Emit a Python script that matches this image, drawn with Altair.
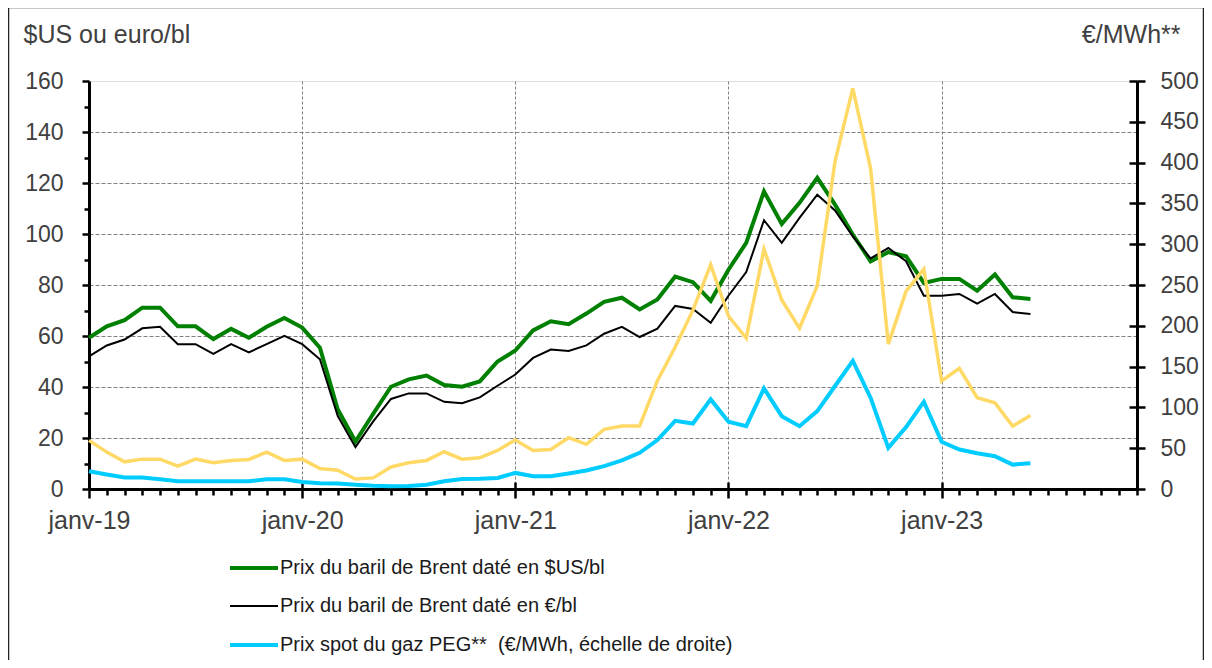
import altair as alt
import pandas as pd

# month index 0 = janv-19 ... 53 = juin-23 (axis runs to déc-23 = 59)
months = list(range(54))

brent_usd = [59.3, 63.8, 66.2, 71.1, 71.1, 63.8, 63.8, 58.8, 62.8, 59.3, 63.6, 67.1,
             63.3, 55.4, 31.3, 18.6, 29.5, 40.1, 43.0, 44.5, 40.8, 40.1, 42.2, 50.0,
             54.3, 62.2, 65.8, 64.6, 68.8, 73.4, 75.0, 70.4, 74.3, 83.3, 81.1, 73.8,
             86.0, 96.5, 116.7, 103.9, 112.2, 122.0, 111.5, 99.8, 89.3, 92.9, 91.3, 80.8,
             82.4, 82.4, 77.8, 84.1, 75.2, 74.5]

brent_eur = [52.0, 56.3, 58.6, 63.0, 63.6, 56.8, 56.8, 53.0, 56.8, 53.6, 56.8, 60.1,
             56.8, 50.9, 28.7, 16.4, 26.5, 35.3, 37.5, 37.5, 34.2, 33.6, 35.9, 40.5,
             44.9, 51.4, 54.7, 54.1, 56.3, 60.9, 63.6, 59.6, 62.9, 71.8, 70.6, 65.2,
             75.8, 85.1, 105.4, 96.5, 106.3, 115.4, 109.2, 99.1, 90.4, 94.5, 89.3, 75.8,
             75.8, 76.5, 72.7, 76.5, 69.4, 68.6]

gaz_peg = [21.8, 17.7, 14.0, 14.0, 11.9, 9.5, 9.5, 9.5, 9.5, 9.5, 11.9, 11.9,
           8.6, 7.0, 6.6, 5.3, 4.1, 3.5, 3.7, 5.3, 9.5, 12.3, 12.7, 13.6,
           19.7, 15.6, 15.6, 18.9, 22.6, 28.0, 35.0, 44.4, 60.0, 83.5, 80.2, 109.8,
           82.4, 77.0, 123.4, 89.3, 77.0, 95.5, 126.2, 157.0, 111.9, 50.4, 75.8, 107.0,
           57.8, 48.4, 43.9, 40.2, 29.9, 31.6]

gaz_autre = [59.6, 45.2, 33.3, 36.6, 36.6, 28.0, 36.6, 32.1, 35.0, 36.2, 45.2, 35.0,
             36.6, 25.1, 23.0, 12.3, 13.6, 27.0, 32.1, 35.0, 45.6, 36.6, 38.2, 47.3,
             60.0, 47.3, 48.5, 62.9, 54.7, 73.2, 77.3, 77.3, 132.8, 173.9, 219.2, 274.7,
             212.0, 184.8, 294.0, 231.6, 197.0, 249.0, 401.6, 491.0, 393.0, 177.5, 242.5, 269.5,
             132.4, 148.0, 111.9, 105.7, 77.0, 90.2]

S_USD = "Prix du baril de Brent daté en $US/bl"
S_EUR = "Prix du baril de Brent daté en €/bl"
S_PEG = "Prix spot du gaz PEG**\u00a0 (€/MWh, échelle de droite)"
S_AUT = "Autre prix spot du gaz (€/MWh, échelle de droite)"
series_names = [S_USD, S_EUR, S_PEG, S_AUT]
series_colors = ["#008000", "#000000", "#00CCFF", "#FFD966"]
series_widths = [4, 2, 4, 3.5]

rows = []
for name, vals in [(S_USD, brent_usd), (S_EUR, brent_eur), (S_PEG, gaz_peg), (S_AUT, gaz_autre)]:
    for m, v in zip(months, vals):
        rows.append({"m": m, "v": v, "serie": name})
df = pd.DataFrame(rows)

FONT = "Liberation Sans"
TXT = "#404040"

legend = alt.Legend(values=[S_USD, S_EUR, S_PEG], orient="none", legendX=139, legendY=461,
                    direction="vertical", title=None, symbolType="stroke", symbolSize=2304,
                    labelFont=FONT, labelFontSize=20, labelColor="#1a1a1a", labelOffset=0,
                    rowPadding=3, labelLimit=800)
color = alt.Color("serie:N", scale=alt.Scale(domain=series_names, range=series_colors), legend=legend)
swidth = alt.StrokeWidth("serie:N", scale=alt.Scale(type="ordinal", domain=series_names, range=series_widths),
                         legend=legend)

xscale = alt.Scale(domain=[0, 59], nice=False, zero=False)
x_main = alt.Axis(orient="bottom", values=list(range(60)),
                  labelExpr="datum.value % 12 == 0 ? 'janv-' + (19 + datum.value / 12) : ''",
                  tickSize={"condition": {"test": "datum.value % 12 == 0", "value": 9}, "value": 6},
                  tickColor="black", tickWidth=2.5, domainColor="black", domainWidth=3,
                  grid=True, gridColor="#808080", gridDash=[3, 2], gridWidth=1,
                  gridOpacity={"condition": {"test": "datum.value % 12 == 0 && datum.value > 0", "value": 1}, "value": 0},
                  labelFont=FONT, labelFontSize=25, labelColor=TXT, labelPadding=10,
                  labelFlush=False, labelOverlap=False, title=None)
x_inner = alt.Axis(orient="bottom", offset=-7, values=[12, 24, 36, 48], tickSize=7,
                   tickColor="black", tickWidth=2.5, labels=False, domain=False, grid=False, title=None)

yl_scale = alt.Scale(domain=[0, 160], nice=False)
yr_scale = alt.Scale(domain=[0, 500], nice=False)

y_left = alt.Axis(orient="left", values=list(range(0, 161, 10)),
                  labelExpr="datum.value % 20 == 0 ? datum.label : ''",
                  tickSize={"condition": {"test": "datum.value % 20 == 0", "value": 7}, "value": 5},
                  tickColor="black", tickWidth=2.5, domainColor="black", domainWidth=3,
                  grid=True, gridColor="#808080", gridDash=[4, 2], gridWidth=1,
                  gridOpacity={"condition": {"test": "datum.value % 20 == 0 && datum.value > 0 && datum.value < 160", "value": 1}, "value": 0},
                  labelFont=FONT, labelFontSize=23, labelColor=TXT, labelPadding=19, labelOverlap=False,
                  title="$US ou euro/bl", titleAngle=0, titleAlign="left", titleBaseline="middle",
                  titleX=-66, titleY=-47, titleFont=FONT, titleFontSize=25, titleFontWeight="normal",
                  titleColor=TXT)
y_right = alt.Axis(orient="right", values=list(range(0, 501, 50)), tickSize=8,
                   tickColor="black", tickWidth=2.5, domainColor="black", domainWidth=3, grid=False,
                   labelFont=FONT, labelFontSize=23, labelColor=TXT, labelPadding=15, labelOverlap=False,
                   title="€/MWh**", titleAngle=0, titleAlign="right", titleBaseline="middle",
                   titleX=43, titleY=-47, titleFont=FONT, titleFontSize=25, titleFontWeight="normal",
                   titleColor=TXT)
y_right_inner = alt.Axis(orient="right", offset=-8, values=list(range(50, 501, 50)), tickSize=8,
                         tickColor="black", tickWidth=2.5, labels=False, domain=False, grid=False, title=None)

base = alt.Chart(df)

green = base.transform_filter(alt.datum.serie == S_USD).mark_line().encode(
    x=alt.X("m:Q", scale=xscale, axis=x_main),
    y=alt.Y("v:Q", scale=yl_scale, axis=y_left),
    color=color, strokeWidth=swidth)
black = base.transform_filter(alt.datum.serie == S_EUR).mark_line().encode(
    x=alt.X("m:Q", scale=xscale, axis=None),
    y=alt.Y("v:Q", scale=yl_scale, axis=None),
    color=color, strokeWidth=swidth)
cyan = base.transform_filter(alt.datum.serie == S_PEG).mark_line().encode(
    x=alt.X("m:Q", scale=xscale, axis=x_inner),
    y=alt.Y("v:Q", scale=yr_scale, axis=y_right),
    color=color, strokeWidth=swidth)
yellow = base.transform_filter(alt.datum.serie == S_AUT).mark_line().encode(
    x=alt.X("m:Q", scale=xscale, axis=None),
    y=alt.Y("v:Q", scale=yr_scale, axis=y_right_inner),
    color=color, strokeWidth=swidth)

frame = alt.Chart(pd.DataFrame({"f": [0]})).mark_rect(fillOpacity=0, stroke="#222222", strokeWidth=1.5).encode(
    x=alt.value(-80.5), x2=alt.value(1114.5), y=alt.value(-73.5), y2=alt.value(620))

chart = alt.layer(green, black, cyan, yellow, frame).resolve_scale(y="independent").resolve_axis(
    x="independent", y="independent").properties(
    width=1048, height=408,
    padding={"left": 81, "top": 73, "right": 67, "bottom": 171},
    autosize=alt.AutoSizeParams(type="none"),
).configure_view(stroke="black", strokeWidth=2).configure(background="white")

chart.save("out.html", embed_options={"renderer": "svg", "actions": False})
